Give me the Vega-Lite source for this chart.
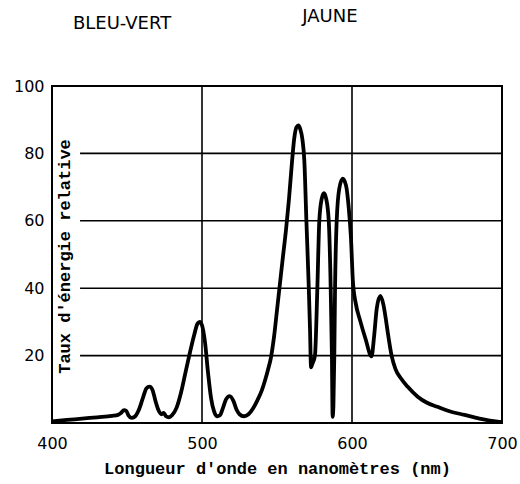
{
  "$schema": "https://vega.github.io/schema/vega-lite/v6.json",
  "width": 450,
  "height": 337,
  "autosize": "none",
  "padding": {"left": 52, "top": 86, "right": 18, "bottom": 61},
  "background": "white",
  "config": {"view": {"stroke": "black", "strokeWidth": 2}},
  "datasets": {
    "spectrum": [
      {"nm": 400, "v": 0.5}, {"nm": 410, "v": 0.9}, {"nm": 420, "v": 1.3}, {"nm": 430, "v": 1.7},
      {"nm": 440, "v": 2.1}, {"nm": 444, "v": 2.4}, {"nm": 446, "v": 3.0}, {"nm": 448, "v": 3.8},
      {"nm": 449.5, "v": 3.6}, {"nm": 451, "v": 2.2}, {"nm": 453, "v": 1.5}, {"nm": 455, "v": 1.8},
      {"nm": 458, "v": 4}, {"nm": 461, "v": 8}, {"nm": 463, "v": 10.3}, {"nm": 465, "v": 10.8},
      {"nm": 467, "v": 9.8}, {"nm": 469, "v": 6.5}, {"nm": 471, "v": 3.8}, {"nm": 473, "v": 2.6},
      {"nm": 474.5, "v": 3.0}, {"nm": 476, "v": 2.0}, {"nm": 478, "v": 1.7}, {"nm": 480, "v": 2.3},
      {"nm": 483, "v": 4.5}, {"nm": 486, "v": 9}, {"nm": 489, "v": 15}, {"nm": 492, "v": 21},
      {"nm": 495, "v": 26.5}, {"nm": 497, "v": 29.5}, {"nm": 498.5, "v": 30}, {"nm": 500, "v": 29},
      {"nm": 502, "v": 24}, {"nm": 504, "v": 15}, {"nm": 506, "v": 7.5}, {"nm": 508, "v": 3.5},
      {"nm": 510, "v": 2.0}, {"nm": 512, "v": 2.3}, {"nm": 514, "v": 4.5}, {"nm": 516, "v": 7},
      {"nm": 518.5, "v": 8}, {"nm": 521, "v": 6.5}, {"nm": 523, "v": 4}, {"nm": 525, "v": 2.6},
      {"nm": 528, "v": 2.0}, {"nm": 531, "v": 2.6}, {"nm": 534, "v": 4.3}, {"nm": 537, "v": 6.8},
      {"nm": 540, "v": 9.8}, {"nm": 542, "v": 12.6}, {"nm": 544, "v": 15.8}, {"nm": 546, "v": 19.5},
      {"nm": 548, "v": 25.5}, {"nm": 550, "v": 33.5}, {"nm": 552, "v": 41.5}, {"nm": 554, "v": 49.5},
      {"nm": 556, "v": 57.3}, {"nm": 558, "v": 66.5}, {"nm": 560, "v": 77.5}, {"nm": 561.5, "v": 84.5},
      {"nm": 563, "v": 87.8}, {"nm": 564.3, "v": 88.3}, {"nm": 565.5, "v": 87.2}, {"nm": 567, "v": 84},
      {"nm": 568.2, "v": 78}, {"nm": 569.6, "v": 60}, {"nm": 571.2, "v": 40}, {"nm": 572, "v": 28},
      {"nm": 572.7, "v": 16.5}, {"nm": 573.5, "v": 17.5}, {"nm": 575.3, "v": 20}, {"nm": 576.9, "v": 40},
      {"nm": 578.2, "v": 60}, {"nm": 579.8, "v": 66.5}, {"nm": 581.3, "v": 68.2}, {"nm": 582.8, "v": 66.5},
      {"nm": 584.5, "v": 60}, {"nm": 585.8, "v": 40}, {"nm": 586.6, "v": 20}, {"nm": 587.1, "v": 1.8},
      {"nm": 587.6, "v": 5}, {"nm": 588.2, "v": 20}, {"nm": 588.7, "v": 40}, {"nm": 589.8, "v": 60},
      {"nm": 591.5, "v": 69.5}, {"nm": 593.8, "v": 72.5}, {"nm": 596, "v": 70.5}, {"nm": 597.8, "v": 64},
      {"nm": 599.3, "v": 55}, {"nm": 600.6, "v": 42}, {"nm": 602.5, "v": 35.5}, {"nm": 605.3, "v": 30.6},
      {"nm": 609, "v": 25}, {"nm": 613, "v": 19.8}, {"nm": 614.8, "v": 26}, {"nm": 616.5, "v": 34},
      {"nm": 618.9, "v": 37.7}, {"nm": 621, "v": 35}, {"nm": 622.5, "v": 31}, {"nm": 623.8, "v": 27},
      {"nm": 626.4, "v": 20}, {"nm": 629, "v": 16}, {"nm": 632.7, "v": 13.2}, {"nm": 637, "v": 10.8},
      {"nm": 643.8, "v": 7.8}, {"nm": 650, "v": 6}, {"nm": 657, "v": 4.8}, {"nm": 665, "v": 3.5},
      {"nm": 675, "v": 2.4}, {"nm": 685, "v": 1.3}, {"nm": 697, "v": 0.4}, {"nm": 700, "v": 0.3}
    ],
    "labels": [
      {"nm": 446.7, "v": 118.5, "text": "BLEU-VERT"},
      {"nm": 585.3, "v": 120.5, "text": "JAUNE"}
    ],
    "hgrid": [{"v": 20}, {"v": 40}, {"v": 60}, {"v": 80}],
    "vgrid": [{"nm": 500}, {"nm": 600}]
  },
  "layer": [
    {
      "data": {"name": "hgrid"},
      "mark": {"type": "rule", "color": "black", "strokeWidth": 1.6},
      "encoding": {
        "x": {"datum": 418.7, "type": "quantitative", "scale": {"domain": [400, 700], "nice": false}},
        "x2": {"datum": 700},
        "y": {"field": "v", "type": "quantitative", "scale": {"domain": [0, 100], "nice": false}}
      }
    },
    {
      "data": {"name": "vgrid"},
      "mark": {"type": "rule", "color": "black", "strokeWidth": 1.6},
      "encoding": {
        "x": {"field": "nm", "type": "quantitative", "scale": {"domain": [400, 700], "nice": false}},
        "y": {"datum": 0, "type": "quantitative", "scale": {"domain": [0, 100], "nice": false}},
        "y2": {"datum": 100}
      }
    },
    {
      "data": {"name": "spectrum"},
      "mark": {"type": "line", "color": "black", "strokeWidth": 3.8, "interpolate": "monotone"},
      "encoding": {
        "x": {
          "field": "nm", "type": "quantitative",
          "scale": {"domain": [400, 700], "nice": false},
          "axis": {
            "values": [400, 500, 600, 700], "grid": false, "domain": false, "ticks": false,
            "labelPadding": 12, "labelFont": "DejaVu Sans", "labelFontSize": 16, "labelColor": "black",
            "labelFlush": false,
            "title": "Longueur d'onde en nanomètres (nm)", "titleFont": "Liberation Mono",
            "titleFontWeight": "bold", "titleFontSize": 17, "titleColor": "black", "titlePadding": 9
          }
        },
        "y": {
          "field": "v", "type": "quantitative",
          "scale": {"domain": [0, 100], "nice": false},
          "axis": {
            "values": [20, 40, 60, 80, 100], "grid": false, "domain": false, "ticks": false,
            "labelPadding": 8, "labelFont": "DejaVu Sans", "labelFontSize": 16, "labelColor": "black",
            "labelFlush": false,
            "title": "Taux d'énergie relative", "titleFont": "Liberation Mono",
            "titleFontWeight": "bold", "titleFontSize": 17, "titleColor": "black",
            "titleX": 12, "titleY": 170, "titleAngle": 270, "titleAlign": "center", "titleBaseline": "middle"
          }
        }
      }
    },
    {
      "data": {"name": "labels"},
      "mark": {"type": "text", "color": "black", "font": "DejaVu Sans", "fontSize": 18, "align": "center", "baseline": "middle"},
      "encoding": {
        "x": {"field": "nm", "type": "quantitative", "scale": {"domain": [400, 700], "nice": false}},
        "y": {"field": "v", "type": "quantitative", "scale": {"domain": [0, 100], "nice": false}},
        "text": {"field": "text"}
      }
    }
  ]
}
